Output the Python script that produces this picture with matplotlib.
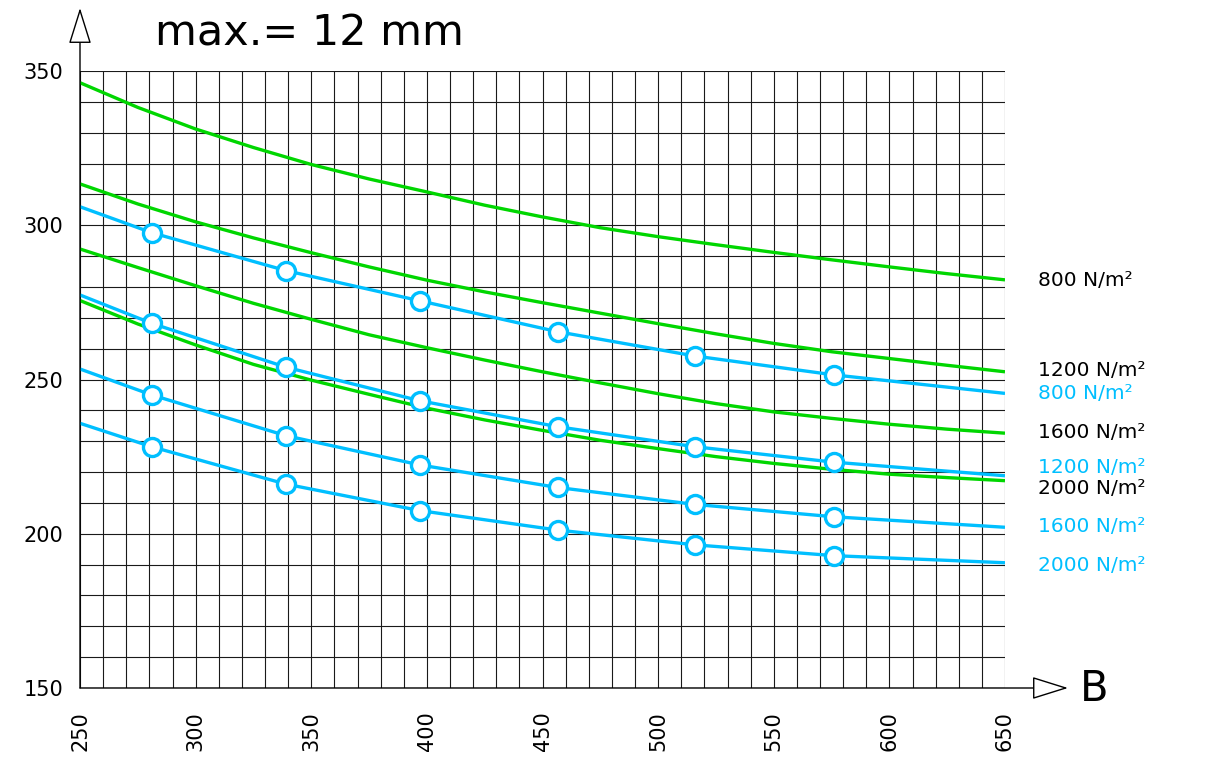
import matplotlib
matplotlib.use("Agg")
import matplotlib.pyplot as plt
from matplotlib.patches import FancyArrowPatch
import matplotlib.transforms as mtransforms

# ---------------- data ----------------
title = "max.= 12 mm"
x_label = "B"
x_ticks = [250, 300, 350, 400, 450, 500, 550, 600, 650]
y_ticks = [150, 200, 250, 300, 350]

# green curves (read every 25 units of B)
green_x = [250, 275, 300, 325, 350, 375, 400, 425, 450, 475, 500, 525, 550, 575, 600, 625, 650]
green_800 = [346.2, 338.2, 331.2, 325.2, 319.7, 315.0, 310.8, 306.5, 302.7, 299.2, 296.3, 293.7, 291.2, 288.8, 286.5, 284.3, 282.3]
green_1200 = [313.4, 306.9, 301.1, 295.9, 291.1, 286.5, 282.2, 278.4, 274.9, 271.5, 268.1, 264.8, 261.7, 259.0, 256.8, 254.6, 252.5]
green_1600 = [292.3, 286.3, 280.4, 274.7, 269.5, 264.5, 260.3, 256.3, 252.5, 248.9, 245.4, 242.2, 239.5, 237.4, 235.5, 233.9, 232.6]
green_2000 = [275.6, 268.0, 261.2, 254.9, 249.8, 245.2, 240.7, 236.9, 233.5, 230.3, 227.6, 225.0, 222.8, 220.9, 219.3, 218.2, 217.2]

# blue curves: start, measured points (circles), end
blue_x = [250, 281, 339, 397, 456.5, 516, 576, 650]
blue_800 = [306.0, 297.6, 285.3, 275.5, 265.5, 257.6, 251.5, 245.5]
blue_1200 = [277.4, 268.2, 254.0, 243.1, 234.7, 228.2, 223.2, 218.8]
blue_1600 = [253.4, 245.0, 231.8, 222.3, 215.0, 209.5, 205.5, 202.1]
blue_2000 = [235.8, 228.2, 216.1, 207.5, 201.2, 196.4, 192.9, 190.6]

green_labels = ["800 N/m²", "1200 N/m²", "1600 N/m²", "2000 N/m²"]
blue_labels = ["800 N/m²", "1200 N/m²", "1600 N/m²", "2000 N/m²"]

# ---------------- style / layout ----------------
GREEN = "#00D600"
BLUE = "#00BFFF"
W, H = 1209, 771
fig = plt.figure(figsize=(W / 100, H / 100), dpi=100)
ax_left, ax_right, ax_top, ax_bot = 80, 1005, 71, 688
ax = fig.add_axes([ax_left / W, 1 - ax_bot / H, (ax_right - ax_left) / W, (ax_bot - ax_top) / H])
ax.set_xlim(250, 650)
ax.set_ylim(150, 350)

# grid every 10 units
for gx in range(250, 651, 10):
    ax.axvline(gx, color="#1a1a1a", lw=0.8, zorder=1)
for gy in range(150, 351, 10):
    ax.axhline(gy, color="#1a1a1a", lw=0.8, zorder=1)

for s in ax.spines.values():
    s.set_visible(False)

ax.set_xticks(x_ticks)
ax.set_yticks(y_ticks)
ax.set_xticklabels([str(v) for v in x_ticks], rotation=90, fontsize=15, va="top", ha="center")
ax.set_yticklabels([str(v) for v in y_ticks], fontsize=15)
ax.tick_params(axis="both", length=0)
ax.tick_params(axis="x", pad=17)
ax.tick_params(axis="y", pad=12)

# curves
for ys in (green_800, green_1200, green_1600, green_2000):
    ax.plot(green_x, ys, color=GREEN, lw=2.4, zorder=3, solid_capstyle="butt",
            solid_joinstyle="round")
for ys in (blue_800, blue_1200, blue_1600, blue_2000):
    ax.plot(blue_x, ys, color=BLUE, lw=2.4, zorder=4, solid_capstyle="butt",
            solid_joinstyle="round")
    ax.plot(blue_x[1:-1], ys[1:-1], ls="none", marker="o", ms=13, mfc="white",
            mec=BLUE, mew=2.4, zorder=5)

# right-hand labels
blend = mtransforms.blended_transform_factory(ax.transAxes, ax.transData)
lab_x = (1038 - ax_left) / (ax_right - ax_left)
green_lab_y = [282.1, 252.9, 232.8, 214.7]
blue_lab_y = [245.5, 221.5, 202.3, 189.6]
for txt, yy in zip(green_labels, green_lab_y):
    ax.text(lab_x, yy, txt, transform=blend, color="black", fontsize=14.5,
            va="center", ha="left", clip_on=False)
for txt, yy in zip(blue_labels, blue_lab_y):
    ax.text(lab_x, yy, txt, transform=blend, color=BLUE, fontsize=14.5,
            va="center", ha="left", clip_on=False)

# axis arrows (hollow heads)
def fx(px):
    return (px - ax_left) / (ax_right - ax_left)

def fy(py):
    return (ax_bot - py) / (ax_bot - ax_top)

arr_y = FancyArrowPatch((fx(80), fy(688)), (fx(80), fy(8)), transform=ax.transAxes,
                        arrowstyle="-|>,head_length=1.15,head_width=0.36", mutation_scale=20,
                        shrinkA=0, shrinkB=0,
                        fc="white", ec="black", lw=1.0, clip_on=False, zorder=6)
ax.add_patch(arr_y)
arr_x = FancyArrowPatch((fx(80), fy(688)), (fx(1068), fy(688)), transform=ax.transAxes,
                        arrowstyle="-|>,head_length=1.15,head_width=0.36", mutation_scale=20,
                        shrinkA=0, shrinkB=0,
                        fc="white", ec="black", lw=1.0, clip_on=False, zorder=6)
ax.add_patch(arr_x)

ax.text(fx(1080), fy(689), x_label, transform=ax.transAxes, fontsize=30,
        ha="left", va="center", clip_on=False)

fig.text(155 / W, 1 - 45 / H, title, fontsize=31, ha="left", va="baseline")

fig.savefig("out.png", dpi=100)
